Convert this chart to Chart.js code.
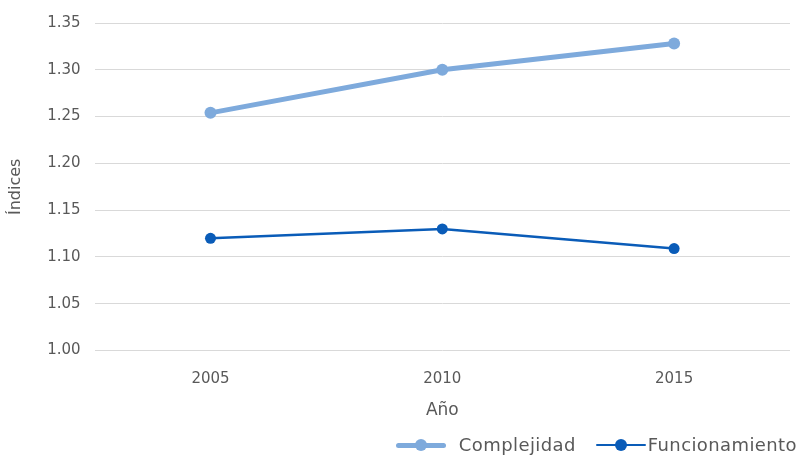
<!DOCTYPE html>
<html>
<head>
<meta charset="utf-8">
<script src="https://cdn.jsdelivr.net/npm/chart.js@4"></script>
<style>
  html, body { margin: 0; padding: 0; background: #fff; }
  #wrap { position: relative; width: 799px; height: 455px; }
  #legend {
    position: absolute; top: 435px; right: 2px; height: 20px;
    display: flex; align-items: center;
    font-family: "DejaVu Sans", sans-serif; font-size: 18px; letter-spacing: 0.4px;
    color: #595959; line-height: 20px; white-space: nowrap;
  }
  .icon { position: relative; display: inline-block; width: 50px; height: 12px; }
  .icon .line { position: absolute; left: 0; right: 0; top: 50%; border-radius: 3px; }
  .icon .dot { position: absolute; left: 19px; top: 0; width: 12px; height: 12px; border-radius: 50%; }
</style>
</head>
<body>
<div id="wrap">
  <canvas id="indexChart" width="799" height="455"></canvas>
  <div id="legend"></div>
</div>
<script>
const years = ['2005', '2010', '2015'];
const complejidad = [1.254, 1.300, 1.328];
const funcionamiento = [1.120, 1.130, 1.109];

const lightBlue = '#7eaadc';
const darkBlue = '#0a5cb8';
const textColor = '#595959';

const ctx = document.getElementById('indexChart').getContext('2d');
Chart.defaults.font.family = '"DejaVu Sans", sans-serif';
Chart.defaults.font.size = 15;
Chart.defaults.color = textColor;

const chart = new Chart(ctx, {
    type: 'line',
    data: {
        labels: years,
        datasets: [{
            label: 'Complejidad',
            data: complejidad,
            borderColor: lightBlue,
            backgroundColor: lightBlue,
            borderWidth: 5,
            pointRadius: 6,
            pointBorderWidth: 0,
            pointHoverRadius: 6,
            tension: 0
        }, {
            label: 'Funcionamiento',
            data: funcionamiento,
            borderColor: darkBlue,
            backgroundColor: darkBlue,
            borderWidth: 2.5,
            pointRadius: 5.5,
            pointBorderWidth: 0,
            pointHoverRadius: 5.5,
            tension: 0
        }]
    },
    options: {
        responsive: false,
        animation: false,
        layout: { padding: { left: 6, right: 9, top: 4, bottom: 30 } },
        plugins: {
            tooltip: { enabled: false },
            legend: { display: false }
        },
        scales: {
            x: {
                offset: true,
                grid: { display: false },
                border: { display: false },
                ticks: { padding: 12, color: textColor },
                title: {
                    display: true,
                    text: 'Año',
                    font: { size: 17 },
                    color: textColor,
                    padding: { top: 0, bottom: 4 }
                }
            },
            y: {
                min: 1.00,
                max: 1.35,
                grid: { color: '#d9d9d9', lineWidth: 1, drawTicks: false },
                border: { display: false },
                ticks: {
                    stepSize: 0.05,
                    padding: 14,
                    color: textColor,
                    callback: function (v) { return v.toFixed(2); }
                },
                title: {
                    display: true,
                    text: 'Índices',
                    font: { size: 16 },
                    color: textColor,
                    padding: { top: 0, bottom: 8 }
                }
            }
        }
    }
});

// html legend: line with a dot, then the series name
const legend = document.getElementById('legend');
chart.data.datasets.forEach(function (ds, i) {
    const icon = document.createElement('span');
    icon.className = 'icon';
    icon.style.marginLeft = i === 0 ? '0' : '20px';
    icon.style.marginRight = i === 0 ? '13px' : '2px';
    const line = document.createElement('span');
    line.className = 'line';
    line.style.height = ds.borderWidth + 'px';
    line.style.marginTop = (-ds.borderWidth / 2) + 'px';
    line.style.background = ds.borderColor;
    const dot = document.createElement('span');
    dot.className = 'dot';
    dot.style.background = ds.borderColor;
    icon.appendChild(line);
    icon.appendChild(dot);
    const label = document.createElement('span');
    label.textContent = ds.label;
    legend.appendChild(icon);
    legend.appendChild(label);
});
</script>
</body>
</html>
